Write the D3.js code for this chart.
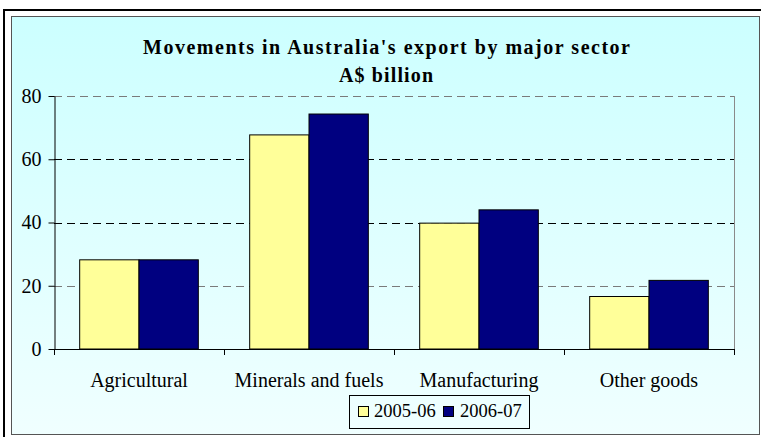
<!DOCTYPE html>
<html>
<head>
<meta charset="utf-8">
<script src="https://cdn.jsdelivr.net/npm/d3@7"></script>
<style>
  html, body { margin: 0; padding: 0; background: #ffffff; }
  svg { display: block; }
</style>
</head>
<body>
<svg id="chart" width="761" height="437"></svg>
<script>
// Export values by sector, A$ billion
const categories = ["Agricultural", "Minerals and fuels", "Manufacturing", "Other goods"];
const seriesNames = ["2005-06", "2006-07"];
const values2005 = [28.2, 67.7, 39.8, 16.6];
const values2006 = [28.2, 74.3, 44.0, 21.7];
const yTicks = [0, 20, 40, 60, 80];
const titleLines = ["Movements in Australia's export by major sector", "A$ billion"];
const seriesColors = ["#FFFF99", "#000080"];

const seriesValues = [values2005, values2006];
const svg = d3.select("#chart");
const serif = "'Liberation Serif', 'Times New Roman', serif";

// Frame and chart area background
const defs = svg.append("defs");
const grad = defs.append("linearGradient").attr("id", "bg").attr("x1", 0).attr("y1", 0).attr("x2", 0).attr("y2", 1);
grad.append("stop").attr("offset", "0%").attr("stop-color", "#CCFFFF");
grad.append("stop").attr("offset", "100%").attr("stop-color", "#F0FFFF");

svg.append("rect").attr("x", 4).attr("y", 10).attr("width", 900).attr("height", 600)
  .attr("fill", "#ffffff").attr("stroke", "#000").attr("stroke-width", 2);
svg.append("rect").attr("x", 11.5).attr("y", 16.5).attr("width", 748).attr("height", 418)
  .attr("fill", "url(#bg)").attr("stroke", "#555").attr("stroke-width", 1);

// Title
const title = svg.append("g").attr("font-family", serif).attr("font-weight", "bold")
  .attr("font-size", 20).attr("fill", "#000").attr("text-anchor", "middle");
title.append("text").attr("x", 386.5).attr("y", 53.5)
  .attr("textLength", 487).attr("lengthAdjust", "spacing").text(titleLines[0]);
title.append("text").attr("x", 386).attr("y", 81.5)
  .attr("textLength", 94).attr("lengthAdjust", "spacing").text(titleLines[1]);

// Scales
const plot = { left: 54, right: 734, top: 96, bottom: 349 };
const x = d3.scaleBand().domain(categories).range([plot.left, plot.right]).paddingInner(0).paddingOuter(0);
const xs = d3.scaleBand().domain(seriesNames).range([0, x.bandwidth()]).paddingInner(0).paddingOuter(0.433);
const y = d3.scaleLinear().domain([0, 80]).range([plot.bottom, plot.top]);

// Gridlines
const grid = svg.append("g");
grid.selectAll("line").data(yTicks.filter(t => t > 0)).join("line")
  .attr("x1", plot.left).attr("x2", plot.right)
  .attr("y1", d => Math.round(y(d)) + 0.5).attr("y2", d => Math.round(y(d)) + 0.5)
  .attr("stroke", d => (d === 20 || d === 80) ? "#7a7a7a" : "#000")
  .attr("stroke-width", 1).attr("stroke-dasharray", "8,5");

// Right border of plot
svg.append("line").attr("x1", plot.right + 0.5).attr("x2", plot.right + 0.5)
  .attr("y1", plot.top).attr("y2", plot.bottom).attr("stroke", "#8a8a8a");

// Bars
const groups = svg.append("g").selectAll("g").data(categories).join("g")
  .attr("transform", d => `translate(${x(d)},0)`);
groups.selectAll("rect")
  .data((c, i) => seriesNames.map((s, k) => ({ s, k, v: seriesValues[k][i] })))
  .join("rect")
  .attr("x", d => xs(d.s))
  .attr("width", xs.bandwidth())
  .attr("y", d => y(d.v))
  .attr("height", d => y(0) - y(d.v))
  .attr("fill", d => seriesColors[d.k])
  .attr("stroke", "#000").attr("stroke-width", 1);

// Y axis
const yAxis = svg.append("g").attr("transform", `translate(${plot.left + 0.5},0)`)
  .call(d3.axisLeft(y).tickValues(yTicks).tickSize(6).tickPadding(7).tickSizeOuter(0));
yAxis.select(".domain").attr("stroke", "#000");
yAxis.selectAll("text").attr("font-family", serif).attr("font-size", 20).attr("fill", "#000");

// X axis line with ticks at category boundaries
const xAxisG = svg.append("g");
xAxisG.append("line").attr("x1", plot.left).attr("x2", plot.right)
  .attr("y1", plot.bottom + 0.5).attr("y2", plot.bottom + 0.5).attr("stroke", "#000");
const bounds = categories.map(c => x(c)).concat([x.range()[1]]);
xAxisG.selectAll("line.tick").data(bounds).join("line").attr("class", "tick")
  .attr("x1", d => Math.round(d) + 0.5).attr("x2", d => Math.round(d) + 0.5)
  .attr("y1", plot.bottom).attr("y2", plot.bottom + 6).attr("stroke", "#000");
xAxisG.selectAll("text").data(categories).join("text")
  .attr("x", d => x(d) + x.bandwidth() / 2).attr("y", 387)
  .attr("text-anchor", "middle").attr("font-family", serif).attr("font-size", 20)
  .attr("fill", "#000").text(d => d);

// Legend
const legend = svg.append("g");
legend.append("rect").attr("x", 349.5).attr("y", 395.5).attr("width", 180).attr("height", 33)
  .attr("fill", "none").attr("stroke", "#000");
const legendItems = [{ x: 358, tx: 374 }, { x: 443, tx: 460 }];
seriesNames.forEach((s, k) => {
  legend.append("rect").attr("x", legendItems[k].x + 0.5).attr("y", 406.5).attr("width", 10).attr("height", 10)
    .attr("fill", seriesColors[k]).attr("stroke", "#000");
  legend.append("text").attr("x", legendItems[k].tx).attr("y", 416.5)
    .attr("font-family", serif).attr("font-size", 18.5).attr("fill", "#000").text(s);
});
</script>
</body>
</html>
